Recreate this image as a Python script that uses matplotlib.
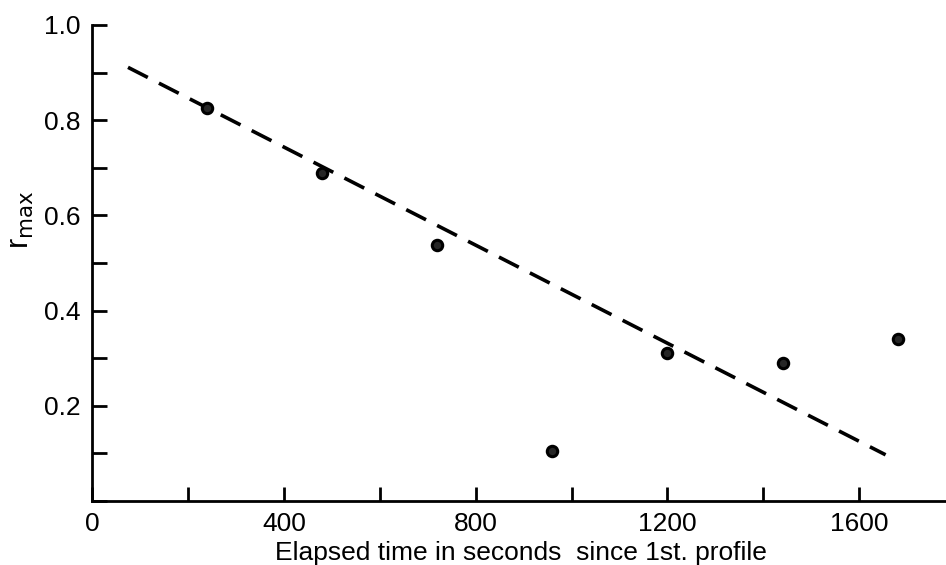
import matplotlib
matplotlib.use("Agg")
import matplotlib.pyplot as plt
from matplotlib.ticker import MultipleLocator, FixedLocator

plt.rcParams['font.family'] = ['Liberation Sans', 'DejaVu Sans']
plt.rcParams['lines.scale_dashes'] = False

# elapsed time (s) and r_max for each profile
t_sec = [240, 480, 720, 960, 1200, 1440, 1680]
r_max = [0.826, 0.689, 0.538, 0.105, 0.311, 0.290, 0.340]

# dashed trend line end points
trend_t = [75, 1655]
trend_r = [0.911, 0.097]

x_ticks = [0, 400, 800, 1200, 1600]
y_ticks = [0.2, 0.4, 0.6, 0.8, 1.0]
y_ticklabels = ['0.2', '0.4', '0.6', '0.8', '1.0']

fig = plt.figure(figsize=(9.46, 5.65), dpi=100)
ax = fig.add_axes([0.0973, 0.1133, 0.9022, 0.8425])

ax.plot(trend_t, trend_r, color='black', lw=2.6, dashes=(16, 9),
        solid_capstyle='butt', dash_capstyle='butt')
ax.plot(t_sec, r_max, 'o', ms=7.5, mfc='0.15', mec='black', mew=2.2)

ax.set_xlim(0, 1780)
ax.set_ylim(0, 1.0)

ax.xaxis.set_major_locator(FixedLocator(x_ticks))
ax.xaxis.set_minor_locator(MultipleLocator(200))
ax.yaxis.set_major_locator(FixedLocator(y_ticks))
ax.set_yticklabels(y_ticklabels)
ax.yaxis.set_minor_locator(MultipleLocator(0.1))

ax.tick_params(which='both', direction='in', width=2.0, color='black')
ax.tick_params(axis='y', which='both', length=11, labelsize=19, pad=8)
ax.tick_params(axis='x', which='both', length=10, labelsize=19, pad=8)

for s in ['top', 'right']:
    ax.spines[s].set_visible(False)
for s in ['left', 'bottom']:
    ax.spines[s].set_linewidth(2.0)

ax.set_xlabel('Elapsed time in seconds  since 1st. profile', fontsize=19)
ax.xaxis.set_label_coords(0.503, -0.084)
ax.set_ylabel(r'r$_{\mathrm{max}}$', fontsize=22)
ax.yaxis.set_label_coords(-0.066, 0.59)

fig.savefig('out.png', dpi=100)
